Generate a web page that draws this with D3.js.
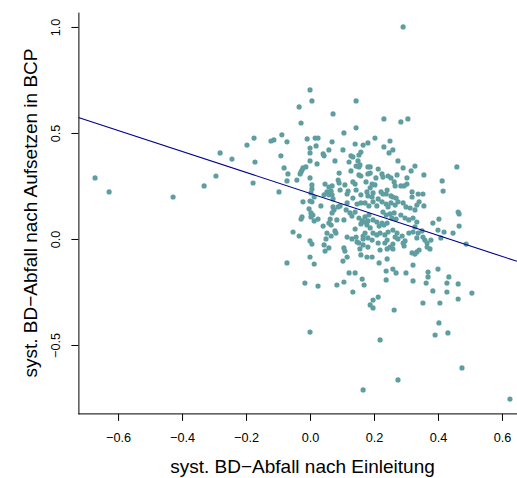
<!DOCTYPE html>
<html>
<head>
<meta charset="utf-8">
<script src="https://cdn.jsdelivr.net/npm/d3@7"></script>
<style>
  body { margin: 0; background: #fff; }
  svg { display: block; font-family: "Liberation Sans", Arial, sans-serif; }
</style>
</head>
<body>
<svg width="517" height="478"></svg>
<script>
// tick values
const xTicks = [-0.6, -0.4, -0.2, 0.0, 0.2, 0.4, 0.6];
const yTicks = [-0.5, 0.0, 0.5, 1.0];

// regression line (abline)
const fitIntercept = 0.215;
const fitSlope = -0.495;

// observations [x, y], grouped by area of the plot
const outerLeft = [
  [-0.672,0.288],[-0.628,0.222],[-0.428,0.198],[-0.331,0.250],[-0.294,0.297],[-0.281,0.406],
  [-0.244,0.377],[-0.197,0.443],[-0.175,0.476],[-0.172,0.363],[-0.178,0.264]
];
const outliers = [
  [0.291,1.000],[0.000,0.703],[0.000,-0.439],[0.219,-0.476],[0.166,-0.712],[0.275,-0.665],
  [0.403,-0.396],[0.391,-0.453],[0.431,-0.443],[0.475,-0.608],[0.625,-0.755],[0.506,-0.255],
  [0.263,-0.335],[0.197,-0.325]
];
const upperWest = [
  [0.006,0.651],[0.144,0.651],[-0.034,0.623],[0.072,0.590],[-0.028,0.547],[0.144,0.524],[0.106,0.500],
  [-0.088,0.491],[-0.122,0.462],[-0.113,0.467],[-0.072,0.458],[-0.009,0.472],[0.016,0.476],[0.025,0.476],
  [0.069,0.458],[0.000,0.429],[0.019,0.439],[0.059,0.420],[0.141,0.448],[0.166,0.443],[0.181,0.453],
  [0.000,0.406],[0.041,0.401],[0.044,0.392],[0.103,0.420],[0.128,0.392],[0.134,0.387],[0.159,0.410],
  [0.153,0.396],[-0.091,0.392],[0.000,0.368],[0.078,0.368],[0.022,0.354],[0.122,0.363],[0.150,0.368],
  [0.144,0.344],[0.153,0.340],[0.156,0.349],[0.181,0.340],[0.128,0.321],[-0.081,0.335],[-0.013,0.340],
  [-0.022,0.335],[-0.025,0.325],[-0.028,0.316],[-0.031,0.307],[-0.069,0.307],[0.091,0.311],[0.153,0.302],
  [0.159,0.297],[0.181,0.307],[0.000,0.288],[-0.072,0.274],[-0.041,0.278],[0.088,0.278],[0.091,0.264],
  [0.134,0.269],[0.141,0.259],[0.175,0.269],[0.006,0.255],[0.047,0.259],[0.059,0.245],[0.069,0.250],
  [0.109,0.255],[-0.097,0.222],[0.006,0.236],[0.003,0.217],[0.053,0.222],[0.066,0.226],[0.069,0.208],
  [0.059,0.208],[0.094,0.231],[0.119,0.226],[0.116,0.212],[0.144,0.231],[0.159,0.208],[0.178,0.222],
  [0.181,0.203],[0.013,0.198],[0.044,0.208],[0.134,0.193],[0.072,0.189]
];
const upperEast = [
  [0.231,0.566],[0.284,0.552],[0.306,0.566],[0.203,0.476],[0.250,0.462],[0.231,0.434],[0.259,0.420],
  [0.247,0.406],[0.275,0.368],[0.459,0.340],[0.328,0.344],[0.291,0.335],[0.316,0.321],[0.188,0.340],
  [0.213,0.330],[0.356,0.302],[0.225,0.307],[0.228,0.292],[0.244,0.297],[0.253,0.288],[0.272,0.302],
  [0.303,0.288],[0.206,0.288],[0.188,0.311],[0.413,0.274],[0.263,0.269],[0.266,0.250],[0.303,0.259],
  [0.194,0.259],[0.203,0.255],[0.284,0.250],[0.294,0.250],[0.416,0.226],[0.188,0.241],[0.197,0.217],
  [0.222,0.222],[0.228,0.212],[0.238,0.212],[0.241,0.231],[0.319,0.222],[0.338,0.212],[0.353,0.212],
  [0.253,0.203],[0.259,0.198],[0.269,0.193],[0.319,0.198],[0.194,0.198],[0.213,0.189]
];
const lowerWest = [
  [-0.022,0.175],[0.000,0.179],[0.006,0.175],[0.034,0.156],[0.072,0.151],[0.088,0.151],[0.094,0.156],
  [0.116,0.170],[0.147,0.165],[0.159,0.170],[0.172,0.170],[0.184,0.156],[0.113,0.137],[0.125,0.123],
  [0.131,0.108],[0.141,0.127],[0.069,0.123],[0.075,0.137],[-0.003,0.142],[0.003,0.123],[0.009,0.113],
  [0.003,0.104],[-0.025,0.104],[-0.028,0.094],[0.013,0.085],[0.025,0.094],[0.063,0.094],[0.059,0.075],
  [0.066,0.066],[0.084,0.090],[0.106,0.090],[0.153,0.099],[0.163,0.085],[0.169,0.080],[0.159,0.071],
  [0.178,0.066],[0.181,0.085],[0.172,0.104],[0.184,0.113],[0.041,0.061],[0.078,0.038],[0.081,0.028],
  [0.141,0.047],[0.188,0.052],[-0.053,0.033],[-0.034,0.014],[0.053,0.028],[0.066,0.014],[0.172,0.028],
  [0.166,0.014],[0.166,0.000],[0.116,0.009],[0.131,0.000],[0.144,0.009],[0.147,-0.014],[0.050,0.000],
  [0.000,-0.009],[0.006,-0.024],[0.153,-0.019],[0.166,-0.028],[0.156,-0.047],[0.044,-0.028],[0.059,-0.042],
  [0.106,-0.042],[0.109,-0.057],[0.047,-0.057],[0.181,-0.038],[0.159,-0.075],[0.178,-0.085],[0.116,-0.085],
  [0.000,-0.085],[-0.072,-0.113],[0.103,-0.104],[0.013,-0.118],[0.122,-0.160],[0.141,-0.160],[0.163,-0.189],
  [0.106,-0.203],[-0.016,-0.208],[0.025,-0.222],[0.084,-0.217],[0.169,-0.217],[0.134,-0.250],[0.188,-0.311],
  [0.181,0.005]
];
const lowerEast = [
  [0.197,0.175],[0.209,0.156],[0.225,0.175],[0.238,0.165],[0.244,0.151],[0.253,0.170],[0.266,0.160],
  [0.275,0.175],[0.291,0.170],[0.300,0.151],[0.313,0.146],[0.328,0.137],[0.334,0.160],[0.341,0.175],
  [0.356,0.156],[0.228,0.127],[0.238,0.113],[0.250,0.118],[0.263,0.123],[0.256,0.099],[0.269,0.094],
  [0.284,0.113],[0.297,0.099],[0.309,0.090],[0.322,0.099],[0.334,0.080],[0.328,0.057],[0.197,0.090],
  [0.209,0.080],[0.225,0.075],[0.216,0.061],[0.231,0.066],[0.241,0.075],[0.197,0.028],[0.209,0.019],
  [0.219,0.028],[0.234,0.019],[0.244,0.033],[0.259,0.042],[0.272,0.028],[0.266,0.009],[0.275,0.000],
  [0.288,0.014],[0.297,-0.009],[0.309,0.028],[0.322,0.033],[0.338,0.028],[0.350,0.038],[0.353,0.009],
  [0.359,-0.005],[0.366,-0.019],[0.366,-0.038],[0.194,-0.005],[0.213,-0.019],[0.234,-0.019],[0.250,-0.038],
  [0.259,-0.047],[0.219,-0.052],[0.241,-0.047],[0.291,-0.019],[0.294,-0.033],[0.319,-0.066],[0.334,-0.061],
  [0.341,-0.052],[0.328,-0.071],[0.194,-0.085],[0.216,-0.113],[0.241,-0.094],[0.322,-0.123],[0.238,-0.151],
  [0.259,-0.142],[0.269,-0.160],[0.300,-0.160],[0.238,-0.193],[0.322,-0.198],[0.369,-0.156],[0.369,-0.179],
  [0.363,-0.208],[0.400,-0.142],[0.434,-0.179],[0.428,-0.208],[0.463,-0.212],[0.384,-0.245],[0.428,-0.250],
  [0.463,-0.283],[0.353,-0.302],[0.406,-0.302],[0.213,-0.274],[0.197,-0.288],[0.463,0.127],[0.466,0.118],
  [0.403,0.094],[0.384,0.075],[0.466,0.061],[0.400,0.042],[0.419,0.033],[0.447,0.028],[0.409,0.005],
  [0.488,-0.024],[0.378,-0.005],[0.241,-0.005],[0.259,-0.024],[0.334,0.005],[0.375,-0.047]
];

const points = [].concat(outerLeft, outliers, upperWest, upperEast, lowerWest, lowerEast);

const svg = d3.select("svg");

// plot region (R style, 4% padding around the data range)
const plotLeft = 78.4, plotRight = 526.6, plotTop = 12.1, plotBottom = 413.9;
const x = d3.scaleLinear().domain([-0.724, 0.677]).range([plotLeft, plotRight]);
const y = d3.scaleLinear().domain([-0.825, 1.070]).range([plotBottom, plotTop]);

svg.append("defs").append("clipPath").attr("id", "plotclip")
  .append("rect").attr("x", plotLeft).attr("y", plotTop)
  .attr("width", plotRight - plotLeft).attr("height", plotBottom - plotTop);

// points
svg.append("g")
  .selectAll("circle")
  .data(points)
  .enter()
  .append("circle")
  .attr("cx", d => x(d[0]))
  .attr("cy", d => y(d[1]))
  .attr("r", 2.6)
  .attr("fill", "#5f9ea0");

// fitted line
const xd = x.domain();
svg.append("line")
  .attr("clip-path", "url(#plotclip)")
  .attr("x1", x(xd[0])).attr("y1", y(fitIntercept + fitSlope * xd[0]))
  .attr("x2", x(xd[1])).attr("y2", y(fitIntercept + fitSlope * xd[1]))
  .attr("stroke", "#00008b")
  .attr("stroke-width", 1.1);

const fmt = d3.format(".1f");

// x axis
const gx = svg.append("g")
  .attr("transform", `translate(0,${plotBottom})`)
  .call(d3.axisBottom(x).tickValues(xTicks).tickFormat(fmt).tickSize(7).tickSizeOuter(0).tickPadding(12));
gx.selectAll("text").attr("font-size", 12.7).attr("fill", "#000");

// y axis, labels rotated like R
const gy = svg.append("g")
  .attr("transform", `translate(${plotLeft},0)`)
  .call(d3.axisLeft(y).tickValues(yTicks).tickFormat(fmt).tickSize(7).tickSizeOuter(0));
gy.selectAll("text")
  .attr("transform", "rotate(-90)")
  .attr("x", 0).attr("y", -18).attr("dy", null)
  .attr("text-anchor", "middle")
  .attr("font-size", 12.7).attr("fill", "#000");

svg.selectAll(".domain, .tick line").attr("stroke", "#000").attr("stroke-width", 1);
gx.select(".domain").attr("d", `M${plotLeft},0H517`);

// axis titles
svg.append("text")
  .attr("x", (plotLeft + plotRight) / 2).attr("y", 473)
  .attr("text-anchor", "middle").attr("font-size", 19)
  .text("syst. BD\u2212Abfall nach Einleitung");

svg.append("text")
  .attr("transform", `translate(37,${(plotTop + plotBottom) / 2}) rotate(-90)`)
  .attr("text-anchor", "middle").attr("font-size", 19)
  .text("syst. BD\u2212Abfall nach Aufsetzen in BCP");
</script>
</body>
</html>
